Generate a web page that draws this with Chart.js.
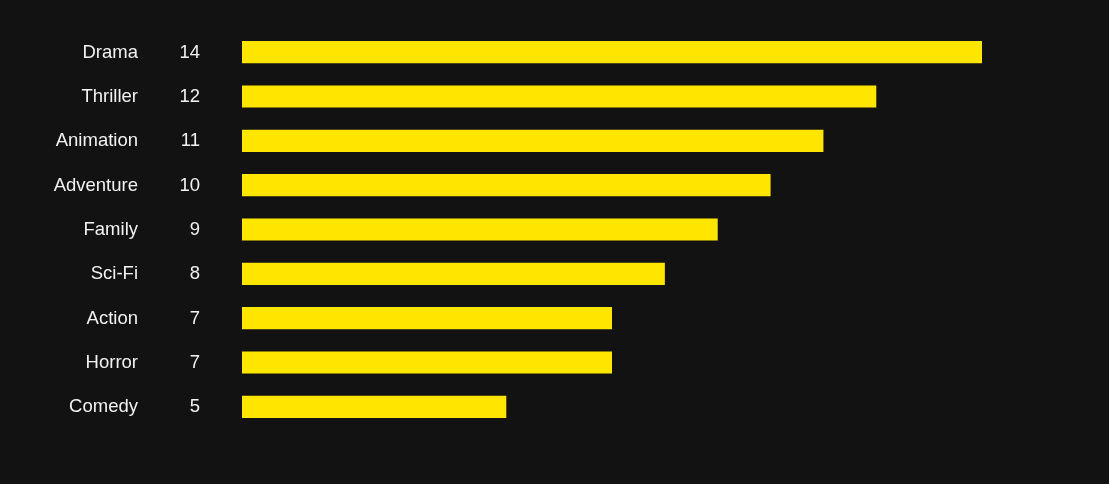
<!DOCTYPE html>
<html>
<head>
<meta charset="utf-8">
<script src="https://cdn.jsdelivr.net/npm/chart.js@4"></script>
<style>
  html, body { margin: 0; padding: 0; background: #121212; }
  #wrap { width: 1109px; height: 484px; position: relative; }
</style>
</head>
<body>
<div id="wrap"><canvas id="c" width="1109" height="484"></canvas></div>
<script>
const categories = ["Drama", "Thriller", "Animation", "Adventure", "Family", "Sci-Fi", "Action", "Horror", "Comedy"];
const counts = [14, 12, 11, 10, 9, 8, 7, 7, 5];

const labelPlugin = {
  id: 'sideLabels',
  afterDatasetsDraw(chart) {
    const ctx = chart.ctx;
    const y = chart.scales.y;
    ctx.save();
    ctx.fillStyle = '#f2f2f2';
    ctx.font = '18.5px "Liberation Sans", Arial, sans-serif';
    ctx.textBaseline = 'middle';
    ctx.textAlign = 'right';
    categories.forEach((c, i) => {
      const py = y.getPixelForValue(i) + 0.5;
      ctx.fillText(c, 138, py);
      ctx.fillText(String(counts[i]), 200, py);
    });
    ctx.restore();
  }
};

new Chart(document.getElementById('c'), {
  type: 'bar',
  data: {
    labels: categories,
    datasets: [{
      data: counts,
      backgroundColor: '#FFE600',
      borderWidth: 0,
      barPercentage: 0.5,
      categoryPercentage: 1.0
    }]
  },
  options: {
    indexAxis: 'y',
    responsive: false,
    animation: false,
    layout: { padding: { left: 242, right: 127, top: 30, bottom: 55 } },
    plugins: { legend: { display: false }, tooltip: { enabled: false } },
    scales: {
      x: { display: false, min: 0, max: 14 },
      y: { display: false }
    }
  },
  plugins: [labelPlugin]
});
</script>
</body>
</html>
